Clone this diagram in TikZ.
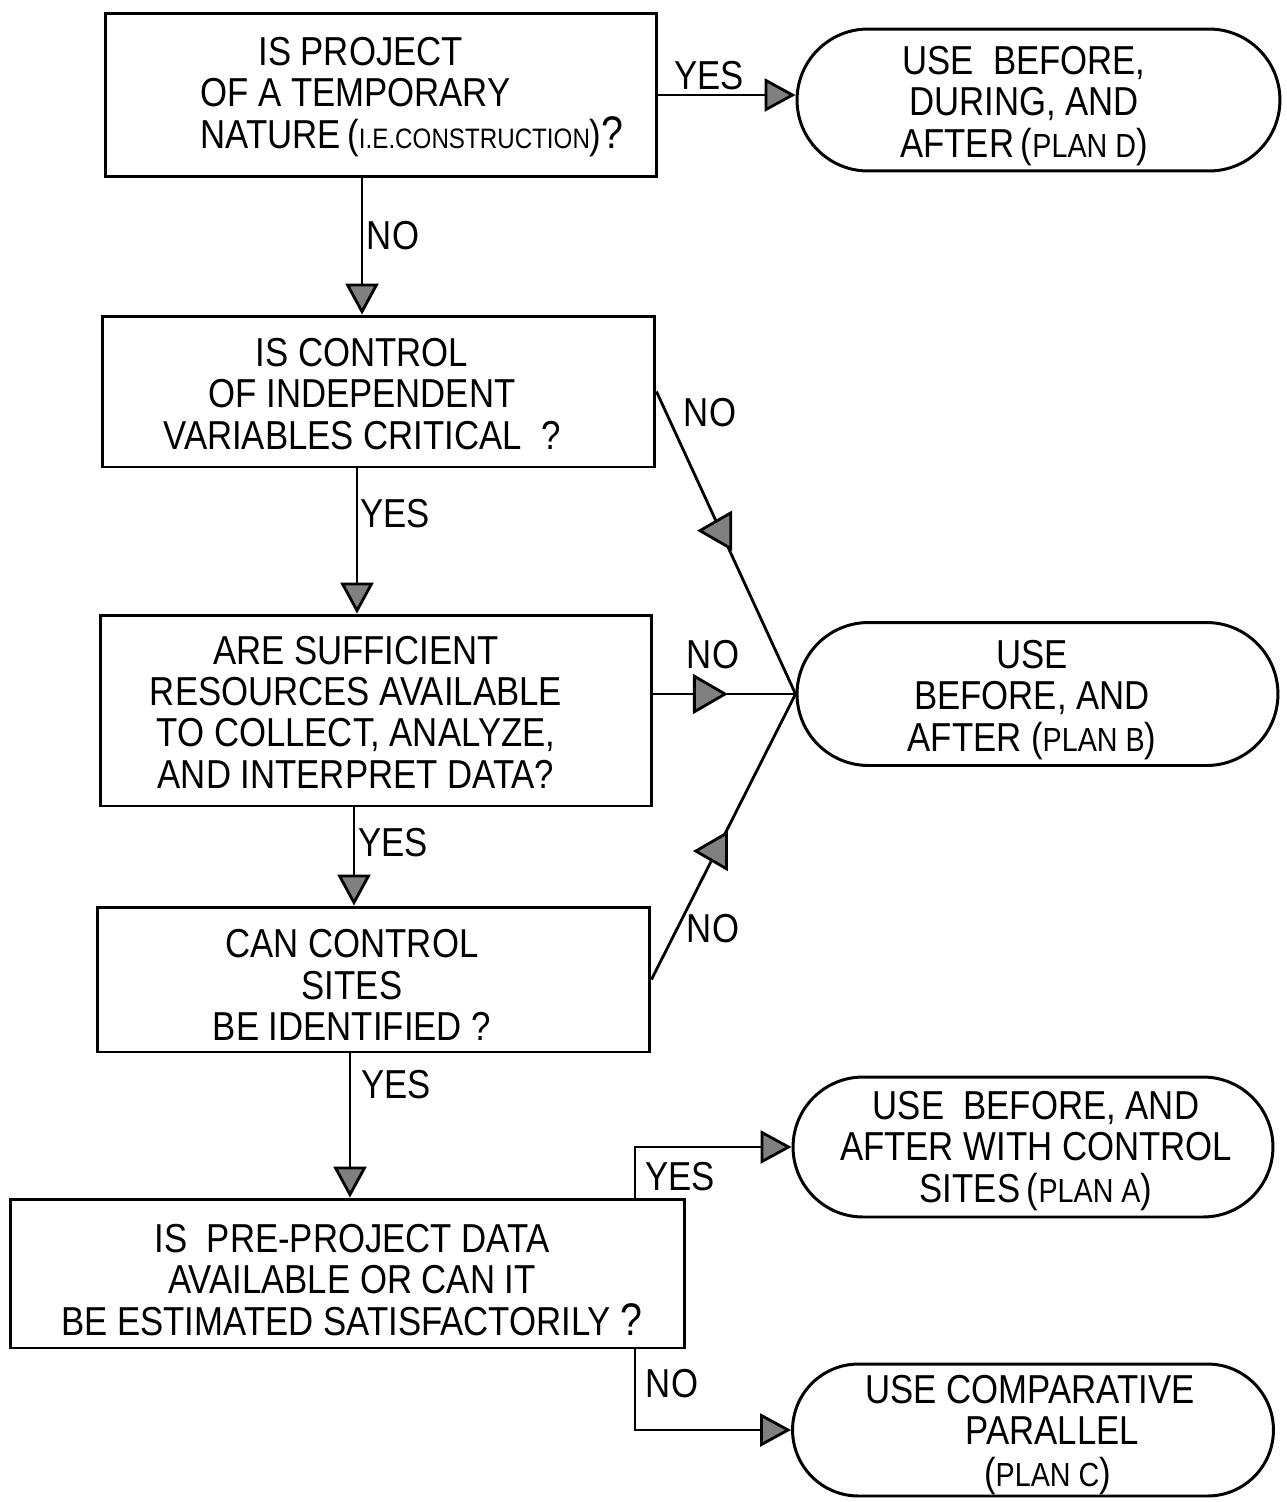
\documentclass[tikz,border=0pt]{standalone}
\usepackage{fontspec}
\setmainfont[FakeStretch=0.86]{Liberation Sans}
\usetikzlibrary{arrows.meta,shapes.misc,shapes.geometric,calc}
\newcommand{\sm}{\fontsize{16}{16}\selectfont}
\newcommand{\pl}{\fontsize{19}{19}\selectfont}
\begin{document}
\begin{tikzpicture}[x=0.02cm,y=-0.02cm,
  box/.style={draw, line width=1.7pt, rectangle, inner sep=0pt},
  term/.style={draw, line width=1.7pt, rounded rectangle, inner sep=0pt},
  txt/.style={align=center, font=\fontsize{23}{23.5}\selectfont, inner sep=0pt},
  lbl/.style={font=\fontsize{23}{24}\selectfont, inner sep=0pt},
  conn/.style={line width=1.6pt},
  flow/.style={line width=1.6pt, -{Triangle[length=0.62cm,width=0.66cm,fill=black!50]}},
  tri/.style={regular polygon, regular polygon sides=3, draw, fill=black!50, line width=1.6pt, inner sep=0pt, minimum size=0.82cm}
]
\useasboundingbox (0,0) rectangle (1286,1502);
\fill[white] (0,0) rectangle (1286,1502);

% decision boxes
\node[box, minimum width=11.04cm, minimum height=3.28cm] (b1) at (381,95) {};
\node[box, minimum width=11.06cm, minimum height=3.02cm] (b2) at (378.5,391.5) {};
\node[box, minimum width=11.04cm, minimum height=3.82cm] (b3) at (376,710.5) {};
\node[box, minimum width=11.06cm, minimum height=2.90cm] (b4) at (373.5,979.5) {};
\node[box, minimum width=13.50cm, minimum height=2.98cm] (b5) at (347.5,1273.5) {};

% terminals
\node[term, minimum width=9.66cm, minimum height=2.84cm] (tD) at (1038.5,100) {};
\node[term, minimum width=9.62cm, minimum height=2.86cm] (tB) at (1037.5,694) {};
\node[term, minimum width=9.60cm, minimum height=2.80cm] (tA) at (1033,1147) {};
\node[term, minimum width=9.62cm, minimum height=2.64cm] (tC) at (1033,1430) {};

% texts
\node[txt, align=left, anchor=west] (b1t) at (200,97)
  {\hspace*{1.16cm}IS PROJECT\\OF A TEMPORARY\\NATURE\,({\sm I.E.CONSTRUCTION}){\fontsize{26}{26}\selectfont ?}};
\node[txt] (b2t) at (362,394) {IS CONTROL\\OF INDEPENDENT\\VARIABLES CRITICAL\ \ ?};
\node[txt] (b3t) at (356,712) {ARE SUFFICIENT\\RESOURCES AVAILABLE\\TO COLLECT, ANALYZE,\\AND INTERPRET DATA?};
\node[txt] (b4t) at (352,985) {CAN CONTROL\\SITES\\BE IDENTIFIED ?};
\node[txt] (b5t) at (352,1280) {IS\ \ PRE-PROJECT DATA\\AVAILABLE OR CAN IT\\BE ESTIMATED SATISFACTORILY {\fontsize{26}{26}\selectfont ?}};
\node[txt] (tDt) at (1024,106) {USE\ \ BEFORE,\\DURING, AND\\AFTER\,({\pl PLAN D})};
\node[txt] (tBt) at (1032,700) {USE\\BEFORE, AND\\AFTER\ ({\pl PLAN B})};
\node[txt] (tAt) at (1036,1151) {USE\ \ BEFORE, AND\\AFTER WITH CONTROL\\SITES\,({\pl PLAN A})};
\node[txt] (tCt) at (1030,1435) {USE COMPARATIVE\\\hspace*{0.9cm}PARALLEL\\\hspace*{0.7cm}({\pl PLAN C})};

% connectors
\draw[flow] (b1.east) -- (b1.east -| tD.west);
\draw[flow] (b1.south -| 362,0) -- (b2.north -| 362,0);
\draw[flow] (b2.south -| 357,0) -- (b3.north -| 357,0);
\draw[flow] (b3.south -| 354,0) -- (b4.north -| 354,0);
\draw[flow] (b4.south -| 350,0) -- (b5.north -| 350,0);
\draw[conn] (b2.east) -- node[tri, pos=0.46, shape border rotate=90] (a2) {} (tB.west);
\draw[conn] (b3.east |- tB.west) -- node[tri, pos=0.36, shape border rotate=-90] (a3) {} (tB.west);
\draw[conn] (b4.east) -- node[tri, pos=0.45, shape border rotate=90] (a4) {} (tB.west);
\draw[flow] (b5.north -| 635,0) |- (tA.west);
\draw[flow] (b5.south -| 635,0) |- (tC.west);

% labels
\node[lbl] (l1) at (709,76) {YES};
\node[lbl] (l2) at (393,236) {NO};
\node[lbl] (l3) at (710,413) {NO};
\node[lbl] (l4) at (395,514) {YES};
\node[lbl] (l5) at (713,655) {NO};
\node[lbl] (l6) at (393,843) {YES};
\node[lbl] (l7) at (713,929) {NO};
\node[lbl] (l8) at (396,1085) {YES};
\node[lbl] (l9) at (680,1177) {YES};
\node[lbl] (l10) at (672,1384) {NO};
\end{tikzpicture}
\end{document}
